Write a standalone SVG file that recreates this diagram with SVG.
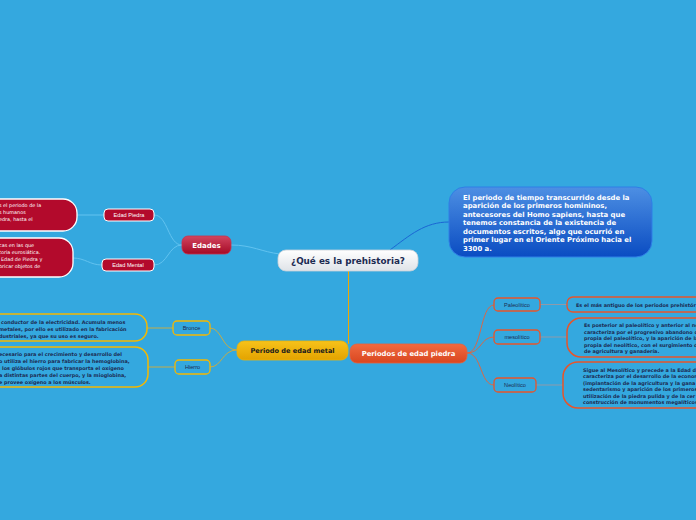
<svg xmlns="http://www.w3.org/2000/svg" width="696" height="520" viewBox="0 0 696 520">
<defs>
<linearGradient id="gCenter" x1="0" y1="0" x2="0" y2="1"><stop offset="0" stop-color="#ffffff"/><stop offset="1" stop-color="#dfe3e8"/></linearGradient>
<linearGradient id="gBlue" x1="0" y1="0" x2="0" y2="1"><stop offset="0" stop-color="#4d8fe3"/><stop offset="1" stop-color="#0a4cc2"/></linearGradient>
<linearGradient id="gRed" x1="0" y1="0" x2="0" y2="1"><stop offset="0" stop-color="#d2455f"/><stop offset="1" stop-color="#a50a26"/></linearGradient>
<linearGradient id="gYellow" x1="0" y1="0" x2="0" y2="1"><stop offset="0" stop-color="#f7c21a"/><stop offset="1" stop-color="#e3a300"/></linearGradient>
<linearGradient id="gOrange" x1="0" y1="0" x2="0" y2="1"><stop offset="0" stop-color="#f06a40"/><stop offset="1" stop-color="#d9461f"/></linearGradient>
</defs>
<style>
.t{font-family:"Liberation Sans",Arial,sans-serif;}
.v{font-family:"DejaVu Sans",Verdana,sans-serif;}
.sm{font-size:4.9px;font-weight:bold;fill:#1c2b52;}
.smw{font-size:4.9px;fill:#ffffff;}
.lbl{font-size:5.6px;fill:#1c2b52;text-anchor:middle;}
.lblw{font-size:5.6px;fill:#ffffff;text-anchor:middle;}
.c{fill:none;stroke-width:1;}
</style>
<rect width="696" height="520" fill="#34a8df"/>
<g id="connectors">
<path class="c" d="M231,245 C252,245 262,252 280,254" stroke="#62c3f0"/>
<path class="c" d="M390,250 C410,235 425,222 449,222" stroke="#1a66d4" stroke-width="1.2"/>
<path class="c" d="M348.5,271 L348.5,344" stroke="#f0a800" stroke-width="1.5"/>
<path class="c" d="M182,245 C168,245 168,215 154,215" stroke="#62c3f0"/>
<path class="c" d="M182,245 C168,245 168,265 154,265" stroke="#62c3f0"/>
<path class="c" d="M104,215 L77,215" stroke="#62c3f0"/>
<path class="c" d="M102,265 C90,265 85,258 73,258" stroke="#62c3f0"/>
<path class="c" d="M237,350 C222,350 222,328 210,328" stroke="#c4ac48"/>
<path class="c" d="M237,350 C222,350 222,367 210,367" stroke="#c4ac48"/>
<path class="c" d="M173,328 L147,328" stroke="#c4ac48"/>
<path class="c" d="M175,367 L148,367" stroke="#c4ac48"/>
<path class="c" d="M467,353 C482,353 480,305 494,305" stroke="#d86848"/>
<path class="c" d="M467,353 C482,353 480,337 494,337" stroke="#d86848"/>
<path class="c" d="M467,353 C482,353 480,385 494,385" stroke="#d86848"/>
<path class="c" d="M540,304.5 L567,304.5" stroke="#8e9aaa" stroke-width="1.5"/>
<path class="c" d="M540,337 L567,337" stroke="#8e9aaa"/>
<path class="c" d="M536,385 L563,385" stroke="#8e9aaa"/>
</g>
<g id="center">
<rect x="278" y="250" width="140" height="21" rx="8" fill="url(#gCenter)" stroke="#c9d0d8" stroke-width="0.8"/>
<text class="v" x="348" y="263.5" font-size="8.8" font-weight="bold" fill="#1c2b52" text-anchor="middle">¿Qué es la prehistoria?</text>
</g>
<g id="definicion">
<rect x="449" y="187" width="203" height="70" rx="16" fill="url(#gBlue)" stroke="#2f7fe6" stroke-width="1"/>
<g class="v" font-size="6.9" font-weight="bold" fill="#ffffff">
<text x="463" y="199.5">El periodo de tiempo transcurrido desde la</text>
<text x="463" y="208">aparición de los primeros homininos,</text>
<text x="463" y="216.5">antecesores del Homo sapiens, hasta que</text>
<text x="463" y="225">tenemos constancia de la existencia de</text>
<text x="463" y="233.5">documentos escritos,  algo que ocurrió en</text>
<text x="463" y="242">primer lugar en el Oriente Próximo hacia el</text>
<text x="463" y="250.5">3300 a.</text>
</g>
</g>
<g id="edades">
<rect x="182" y="236" width="49" height="18" rx="6" fill="url(#gRed)" stroke="#c8304c" stroke-width="0.8"/>
<text class="v" x="206.5" y="248" font-size="7" font-weight="bold" fill="#ffffff" text-anchor="middle">Edades</text>
</g>
<g id="edad-piedra">
<rect x="104" y="209" width="50" height="12" rx="4" fill="#b30a2c" stroke="#ffffff" stroke-width="1"/>
<text class="t lblw" x="129" y="217">Edad Piedra</text>
</g>
<g id="edad-mental">
<rect x="102" y="259" width="52" height="12" rx="4" fill="#b30a2c" stroke="#ffffff" stroke-width="1"/>
<text class="t lblw" x="128" y="267">Edad Mental</text>
</g>
<g id="piedra-texto">
<rect x="-60" y="199" width="137" height="32" rx="14" fill="#b30a2c" stroke="#ffffff" stroke-width="1.3"/>
<text class="v smw" x="-1" y="207">s el periodo de la</text>
<text class="v smw" x="-1" y="214">s humanos</text>
<text class="v smw" x="-1" y="221">edra, hasta el</text>
</g>
<g id="mental-texto">
<rect x="-60" y="238" width="133" height="39" rx="14" fill="#b30a2c" stroke="#ffffff" stroke-width="1.3"/>
<text class="v smw" x="-1" y="247">cas en las que</text>
<text class="v smw" x="-1" y="254">toria eurosiática.</text>
<text class="v smw" x="1" y="261">Edad de Piedra y</text>
<text class="v smw" x="-1" y="268">bricar objetos de</text>
</g>
<g id="edad-metal">
<rect x="237" y="341" width="111" height="19" rx="7" fill="url(#gYellow)" stroke="#e8b20a" stroke-width="0.8"/>
<text class="v" x="292.5" y="353.3" font-size="6.6" font-weight="bold" fill="#1c1c1c" text-anchor="middle">Periodo de edad metal</text>
</g>
<g id="bronce">
<rect x="173" y="321" width="37" height="14" rx="4" fill="#34a8df" stroke="#f5b800" stroke-width="1.3"/>
<text class="t lbl" x="191.5" y="330">Bronce</text>
</g>
<g id="hierro">
<rect x="175" y="360" width="35" height="14" rx="4" fill="#34a8df" stroke="#f5b800" stroke-width="1.3"/>
<text class="t lbl" x="192.5" y="369">Hierro</text>
</g>
<g id="bronce-texto">
<rect x="-60" y="314" width="207" height="27" rx="12" fill="#34a8df" stroke="#f5b800" stroke-width="1.5"/>
<text class="v sm" x="1" y="324">conductor de la electricidad. Acumula menos</text>
<text class="v sm" x="-1" y="331">metales, por ello es utilizado en la fabricación</text>
<text class="v sm" x="-1" y="338">dustriales, ya que su uso es seguro.</text>
</g>
<g id="hierro-texto">
<rect x="-60" y="347" width="208" height="40" rx="13" fill="#34a8df" stroke="#f5b800" stroke-width="1.5"/>
<text class="v sm" x="-1" y="356">ecesario para el crecimiento y desarrollo del</text>
<text class="v sm" x="-1" y="363">o utiliza el hierro para fabricar la hemoglobina,</text>
<text class="v sm" x="2" y="370">los glóbulos rojos que transporta el oxígeno</text>
<text class="v sm" x="-1" y="377">a distintas partes del cuerpo, y la mioglobina,</text>
<text class="v sm" x="-1" y="383.5">e provee oxígeno a los músculos.</text>
</g>
<g id="edad-piedra-periodos">
<rect x="350" y="344" width="117" height="19" rx="7" fill="url(#gOrange)" stroke="#e8603a" stroke-width="0.8"/>
<text class="v" x="408.5" y="356.3" font-size="6.8" font-weight="bold" fill="#ffffff" text-anchor="middle">Periodos de edad piedra</text>
</g>
<g id="paleolitico">
<rect x="494" y="298" width="46" height="13" rx="4" fill="#34a8df" stroke="#e8542a" stroke-width="1.3"/>
<text class="t lbl" x="517" y="306.5">Paleolítico</text>
</g>
<g id="mesolitico">
<rect x="494" y="330" width="46" height="14" rx="4" fill="#34a8df" stroke="#e8542a" stroke-width="1.3"/>
<text class="t lbl" x="517" y="339">mesolítico</text>
</g>
<g id="neolitico">
<rect x="494" y="378" width="42" height="14" rx="4" fill="#34a8df" stroke="#e8542a" stroke-width="1.3"/>
<text class="t lbl" x="515" y="387">Neolítico</text>
</g>
<g id="paleolitico-texto">
<rect x="567" y="297" width="200" height="15" rx="6" fill="#34a8df" stroke="#e8542a" stroke-width="1.3"/>
<text class="v sm" x="576" y="306.5">Es el más antiguo de los periodos prehistór</text>
</g>
<g id="mesolitico-texto">
<rect x="567" y="318" width="200" height="39" rx="14" fill="#34a8df" stroke="#e8542a" stroke-width="1.5"/>
<text class="v sm" x="584" y="327">Es posterior al paleolítico y anterior al ne</text>
<text class="v sm" x="584" y="333.5">caracteriza por el progresivo abandono d</text>
<text class="v sm" x="584" y="340">propia del paleolítico, y la aparición de la</text>
<text class="v sm" x="584" y="346.5">propia del neolítico, con el surgimiento d</text>
<text class="v sm" x="584" y="353">de agricultura y ganadería.</text>
</g>
<g id="neolitico-texto">
<rect x="563" y="362" width="200" height="46" rx="15" fill="#34a8df" stroke="#e8542a" stroke-width="1.5"/>
<text class="v sm" x="583" y="371.5">Sigue al Mesolítico y precede a la Edad d</text>
<text class="v sm" x="583" y="378">caracteriza por el desarrollo de la econor</text>
<text class="v sm" x="583" y="384.5">(implantación de la agricultura y la gana</text>
<text class="v sm" x="583" y="391">sedentarismo y aparición de los primeros</text>
<text class="v sm" x="583" y="397.5">utilización de la piedra pulida y de la cer</text>
<text class="v sm" x="583" y="404">construcción de monumentos megalíticos</text>
</g>
</svg>
